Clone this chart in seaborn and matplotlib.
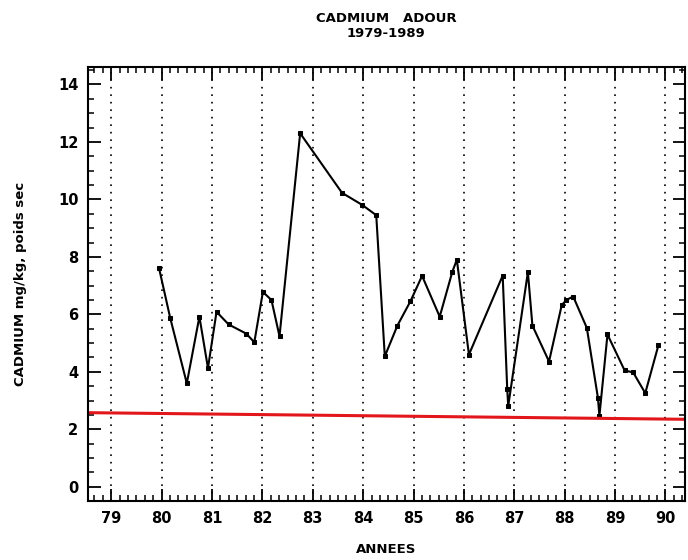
import numpy as np
import pandas as pd
import seaborn as sns
import matplotlib.pyplot as plt
from matplotlib.ticker import MultipleLocator

# values (year as 79..90, cadmium mg/kg dry weight)
years = [79.95, 80.17, 80.5, 80.75, 80.92, 81.09, 81.33, 81.68, 81.84, 82.01,
         82.18, 82.34, 82.75, 83.58, 83.98, 84.26, 84.43, 84.68, 84.94, 85.17,
         85.52, 85.77, 85.86, 86.1, 86.77, 86.86, 86.88, 87.27, 87.36, 87.69,
         87.94, 88.03, 88.17, 88.44, 88.66, 88.69, 88.85, 89.19, 89.36, 89.6,
         89.86]
cadmium = [7.6, 5.88, 3.6, 5.92, 4.13, 6.09, 5.65, 5.33, 5.03, 6.78,
           6.5, 5.24, 12.3, 10.23, 9.81, 9.45, 4.54, 5.61, 6.46, 7.34,
           5.92, 7.48, 7.9, 4.6, 7.35, 3.4, 2.81, 7.47, 5.61, 4.36,
           6.31, 6.5, 6.62, 5.53, 3.1, 2.47, 5.3, 4.05, 3.98, 3.26,
           4.92]

# red trend line
trend_years = [78.54, 90.38]
trend_values = [2.58, 2.35]

year_ticks = list(range(79, 91))

df = pd.DataFrame({"annee": years, "cd": cadmium})
trend = pd.DataFrame({"annee": trend_years, "cd": trend_values})

sns.set_style("white")
plt.rcParams['font.family'] = ['DejaVu Sans']
plt.rcParams['text.color'] = 'black'
plt.rcParams['axes.labelcolor'] = 'black'
plt.rcParams['xtick.color'] = 'black'
plt.rcParams['ytick.color'] = 'black'

fig = plt.figure(figsize=(6.88, 5.6), dpi=100)
ax = fig.add_axes([0.128, 0.105, 0.867, 0.775])

for x in year_ticks:
    ax.axvline(x, color="black", linestyle=(0, (1, 3.5)), linewidth=1.2, zorder=0)

sns.lineplot(data=df, x="annee", y="cd", sort=False, estimator=None,
             color="black", linewidth=1.5, marker="s", markersize=3,
             markeredgecolor="black", ax=ax)
sns.lineplot(data=trend, x="annee", y="cd", sort=False, estimator=None,
             color="#e3161b", linewidth=2.2, ax=ax)

ax.set_xlim(78.54, 90.38)
ax.set_ylim(-0.5, 14.6)
ax.set_xticks(year_ticks)
ax.set_xticklabels([str(y) for y in year_ticks])
ax.xaxis.set_minor_locator(MultipleLocator(1 / 6))
ax.set_yticks(range(0, 15, 2))
ax.yaxis.set_minor_locator(MultipleLocator(0.5))

ax.tick_params(which="both", direction="in", top=True, right=True,
               bottom=True, left=True, color="black", labelcolor="black")
ax.tick_params(which="major", length=9, width=1.3, labelsize=10.5, pad=7)
ax.tick_params(which="minor", length=4, width=1.1)
for lab in ax.get_xticklabels() + ax.get_yticklabels():
    lab.set_fontweight("bold")

for s in ax.spines.values():
    s.set_color("black")
    s.set_linewidth(1.5)

ax.set_xlabel("ANNEES", fontsize=9.5, fontweight="bold", labelpad=12, color="black")
ax.set_ylabel("CADMIUM mg/kg, poids sec", fontsize=9.5, fontweight="bold",
              labelpad=22, color="black")
ax.set_title("CADMIUM   ADOUR\n1979-1989", fontsize=9.5, fontweight="bold", pad=22,
             linespacing=1.2, color="black")

fig.savefig("out.png", dpi=100)
